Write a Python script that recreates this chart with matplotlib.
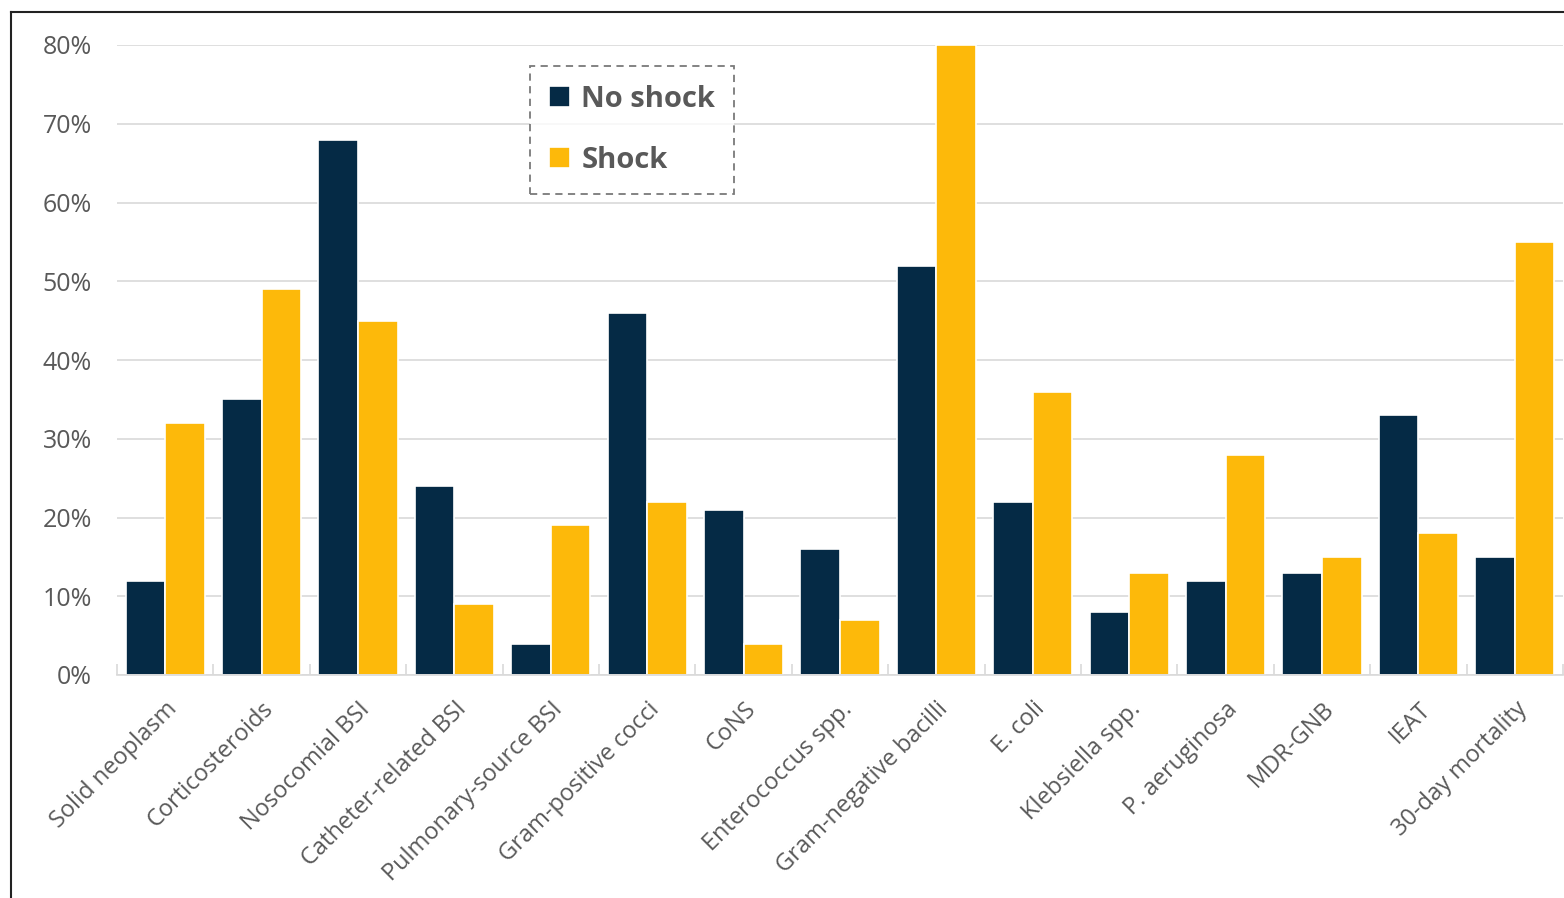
import matplotlib.pyplot as plt
import numpy as np
from matplotlib.lines import Line2D
from matplotlib.ticker import FuncFormatter, FixedLocator

categories = ['Solid neoplasm', 'Corticosteroids', 'Nosocomial BSI',
              'Catheter-related BSI', 'Pulmonary-source BSI',
              'Gram-positive cocci', 'CoNS', 'Enterococcus spp.',
              'Gram-negative bacilli', 'E. coli', 'Klebsiella spp.',
              'P. aeruginosa', 'MDR-GNB', 'IEAT', '30-day mortality']
no_shock = [12, 35, 68, 24, 4, 46, 21, 16, 52, 22, 8, 12, 13, 33, 15]
shock = [32, 49, 45, 9, 19, 22, 4, 7, 80, 36, 13, 28, 15, 18, 55]

NAVY = '#052A45'
GOLD = '#FDB90A'
TEXT = '#595959'

plt.rcParams['font.family'] = ['Open Sans', 'DejaVu Sans']

fig = plt.figure(figsize=(15.64, 8.98), dpi=100)
ax = fig.add_axes([117 / 1564, 1 - 675 / 898, 1446 / 1564, 630 / 898])

x = np.arange(len(categories))
w = 0.41
ax.bar(x - w / 2, no_shock, w, color=NAVY, edgecolor='white',
       linewidth=1.2, label='No shock', zorder=3)
ax.bar(x + w / 2, shock, w, color=GOLD, edgecolor='white',
       linewidth=1.2, label='Shock', zorder=3)

ax.set_xlim(-0.5, len(categories) - 0.5)
ax.set_ylim(0, 80)
ax.set_yticks(range(0, 81, 10))
ax.yaxis.set_major_formatter(FuncFormatter(lambda v, p: f'{int(v)}%'))
ax.grid(axis='y', color='#D9D9D9', linewidth=1.2, zorder=0)

ax.set_xticks(x)
ax.set_xticklabels(categories, rotation=45, ha='right',
                   rotation_mode='anchor')
ax.xaxis.set_minor_locator(FixedLocator(np.arange(-0.5, len(categories), 1)))
ax.tick_params(axis='x', which='major', length=0, pad=16,
               labelsize=17, labelcolor=TEXT)
ax.tick_params(axis='x', which='minor', length=8, direction='in',
               color='#D9D9D9', width=1.2)
ax.tick_params(axis='y', length=0, pad=18, labelsize=18,
               labelcolor=TEXT)

for s in ['left', 'right', 'top']:
    ax.spines[s].set_visible(False)
ax.spines['bottom'].set_color('#D9D9D9')
ax.spines['bottom'].set_linewidth(1.2)
ax.spines['bottom'].set_zorder(4)

leg = ax.legend(loc='upper left', bbox_to_anchor=(0.2758, 0.9905),
                prop={'weight': 'bold', 'size': 21}, labelcolor=TEXT,
                handlelength=0.7, handleheight=0.7, handletextpad=0.4,
                labelspacing=1.1, borderpad=0.65, fancybox=False)
frame = leg.get_frame()
frame.set_edgecolor('#595959')
frame.set_linestyle((0, (4, 3)))
frame.set_linewidth(1.3)

# outer border of the original figure (partly cropped)
fig.add_artist(Line2D([10.5 / 1564, 10.5 / 1564], [0, 1 - 12 / 898],
                      color='#222222', linewidth=1.5))
fig.add_artist(Line2D([10.5 / 1564, 1], [1 - 12 / 898, 1 - 12 / 898],
                      color='#222222', linewidth=1.5))

plt.savefig('out.png', dpi=100)
